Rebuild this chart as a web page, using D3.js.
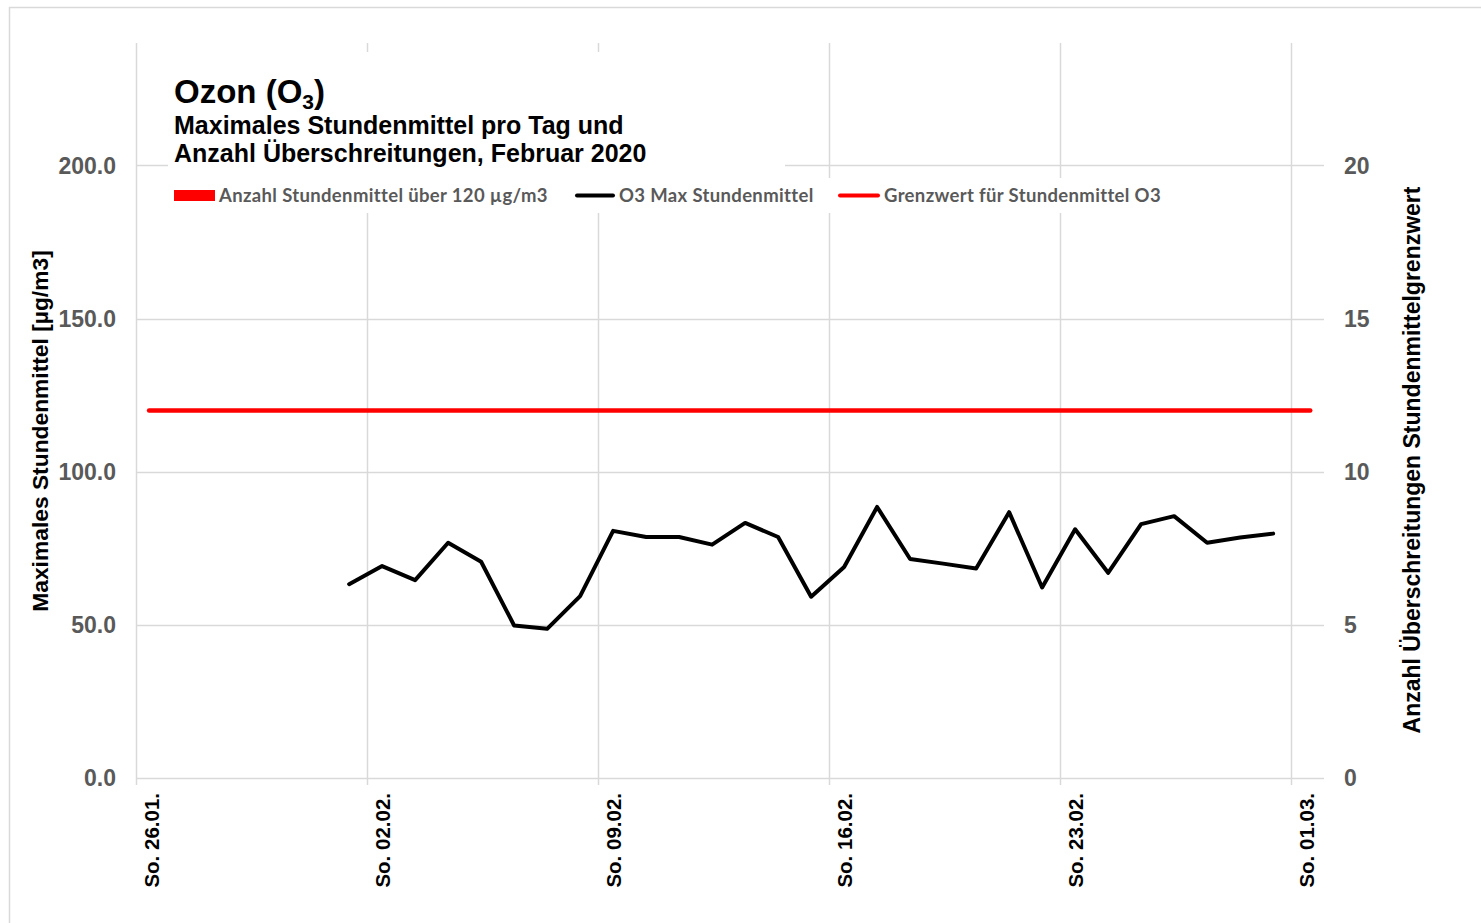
<!DOCTYPE html>
<html>
<head>
<meta charset="utf-8">
<script src="https://cdn.jsdelivr.net/npm/d3@7"></script>
<style>
  html, body { margin: 0; padding: 0; background: #fff; }
  svg { display: block; }
</style>
</head>
<body>
<svg id="chart" width="1481" height="923"></svg>
<script>
// ---------- data ----------
const dayDates = d3.range(1, 30).map(d => `2020-02-${String(d).padStart(2, "0")}T11:00:00Z`);
const o3Max = [63.3, 69.2, 64.6, 76.8, 70.6, 49.8, 48.7, 59.4, 80.7, 78.7,
               78.7, 76.2, 83.3, 78.7, 59.2, 68.9, 88.5, 71.5, 70.0, 68.4,
               86.8, 62.2, 81.2, 67.0, 82.9, 85.5, 76.8, 78.5, 79.8];
const exceedCounts = [0,0,0,0,0,0,0,0,0,0,0,0,0,0,0,0,0,0,0,0,0,0,0,0,0,0,0,0,0];
const thresholdDates = ["2020-01-26T09:30:00Z", "2020-03-01T14:00:00Z"];
const thresholdValues = [120, 120];
const xTickDates = ["2020-01-26", "2020-02-02", "2020-02-09", "2020-02-16", "2020-02-23", "2020-03-01"];
const xTickLabels = ["So. 26.01.", "So. 02.02.", "So. 09.02.", "So. 16.02.", "So. 23.02.", "So. 01.03."];
const yLeftTicks = [0, 50, 100, 150, 200];
const yRightTicks = [0, 5, 10, 15, 20];
const legendLabels = ["Anzahl Stundenmittel über 120 µg/m3", "O3 Max Stundenmittel", "Grenzwert für Stundenmittel O3"];

// ---------- layout ----------
const svg = d3.select("#chart");
const plot = { left: 136, right: 1324, top: 43, bottom: 778 };
const gridColor = "#d9d9d9";
const arial = "'Liberation Sans', Arial, sans-serif";
const calibri = "Lato, 'Open Sans', sans-serif";

const x = d3.scaleUtc()
  .domain([new Date("2020-01-26T00:00:00Z"), new Date("2020-03-02T00:00:00Z")])
  .range([plot.left, plot.right]);
const yL = d3.scaleLinear().domain([0, 240]).range([plot.bottom, plot.top]);
const yR = d3.scaleLinear().domain([0, 24]).range([plot.bottom, plot.top]);

// outer border
svg.append("rect").attr("x", 9.5).attr("y", 7.5).attr("width", 1500).attr("height", 940)
  .attr("fill", "#fff").attr("stroke", gridColor).attr("stroke-width", 1.5);

// horizontal gridlines
svg.append("g").selectAll("line").data(yLeftTicks).join("line")
  .attr("x1", plot.left).attr("x2", plot.right)
  .attr("y1", d => Math.round(yL(d)) + 0.5).attr("y2", d => Math.round(yL(d)) + 0.5)
  .attr("stroke", gridColor).attr("stroke-width", 1.5);

// vertical gridlines (with tick extension)
svg.append("g").selectAll("line").data(xTickDates).join("line")
  .attr("x1", d => Math.round(x(new Date(d + "T00:00:00Z"))) + 0.5)
  .attr("x2", d => Math.round(x(new Date(d + "T00:00:00Z"))) + 0.5)
  .attr("y1", plot.top).attr("y2", plot.bottom + 7)
  .attr("stroke", gridColor).attr("stroke-width", 1.5);

// left axis tick labels
svg.append("g").selectAll("text").data(yLeftTicks).join("text")
  .attr("x", 116).attr("y", d => yL(d)).attr("dy", "0.36em")
  .attr("text-anchor", "end")
  .attr("font-family", arial).attr("font-weight", "bold").attr("font-size", 23)
  .attr("fill", "#595959").text(d => d3.format(".1f")(d));

// right axis tick labels
svg.append("g").selectAll("text").data(yRightTicks).join("text")
  .attr("x", 1344).attr("y", d => yR(d)).attr("dy", "0.36em")
  .attr("text-anchor", "start")
  .attr("font-family", arial).attr("font-weight", "bold").attr("font-size", 23)
  .attr("fill", "#595959").text(d => d);

// x tick labels (rotated)
svg.append("g").selectAll("text").data(xTickDates).join("text")
  .attr("transform", (d, i) => `translate(${x(new Date(d + "T00:00:00Z")) + 23},793) rotate(-90)`)
  .attr("text-anchor", "end")
  .attr("font-family", arial).attr("font-weight", "bold").attr("font-size", 20.5)
  .attr("fill", "#000").text((d, i) => xTickLabels[i]);

// axis titles
svg.append("text")
  .attr("transform", "translate(48,431) rotate(-90)")
  .attr("text-anchor", "middle")
  .attr("font-family", arial).attr("font-weight", "bold").attr("font-size", 22.8)
  .attr("fill", "#000").text("Maximales Stundenmittel [µg/m3]");
svg.append("text")
  .attr("transform", "translate(1420,460) rotate(-90)")
  .attr("text-anchor", "middle")
  .attr("font-family", arial).attr("font-weight", "bold").attr("font-size", 23)
  .attr("fill", "#000").text("Anzahl Überschreitungen Stundenmittelgrenzwert");

// bars (all zero)
const bw = 20;
svg.append("g").selectAll("rect").data(exceedCounts).join("rect")
  .attr("x", (d, i) => x(new Date(dayDates[i])) - bw / 2)
  .attr("y", d => yR(d)).attr("width", bw)
  .attr("height", d => yR(0) - yR(d)).attr("fill", "#ff0000");

// threshold line
const thr = thresholdDates.map((d, i) => ({ t: new Date(d), v: thresholdValues[i] }));
svg.append("path").datum(thr)
  .attr("d", d3.line().x(d => x(d.t)).y(d => yL(d.v)))
  .attr("fill", "none").attr("stroke", "#ff0000").attr("stroke-width", 4.5)
  .attr("stroke-linecap", "round");

// O3 line
const o3 = o3Max.map((v, i) => ({ t: new Date(dayDates[i]), v }));
svg.append("path").datum(o3)
  .attr("d", d3.line().x(d => x(d.t)).y(d => yL(d.v)))
  .attr("fill", "none").attr("stroke", "#000").attr("stroke-width", 4)
  .attr("stroke-linejoin", "round").attr("stroke-linecap", "round");

// title & legend background boxes
svg.append("rect").attr("x", 168).attr("y", 52).attr("width", 617).attr("height", 161).attr("fill", "#fff");
svg.append("rect").attr("x", 168).attr("y", 178).attr("width", 1002).attr("height", 35).attr("fill", "#fff");

// title
const t1 = svg.append("text").attr("x", 174).attr("y", 103)
  .attr("font-family", arial).attr("font-weight", "bold").attr("font-size", 33).attr("fill", "#000");
t1.append("tspan").text("Ozon (O");
t1.append("tspan").attr("font-size", 21).attr("dy", 6).text("3");
t1.append("tspan").attr("dy", -6).text(")");
svg.append("text").attr("x", 174).attr("y", 134)
  .attr("font-family", arial).attr("font-weight", "bold").attr("font-size", 25).attr("fill", "#000")
  .text("Maximales Stundenmittel pro Tag und");
svg.append("text").attr("x", 174).attr("y", 162)
  .attr("font-family", arial).attr("font-weight", "bold").attr("font-size", 25).attr("fill", "#000")
  .text("Anzahl Überschreitungen, Februar 2020");

// legend
const lg = svg.append("g");
lg.append("rect").attr("x", 174).attr("y", 190).attr("width", 41).attr("height", 11).attr("fill", "#ff0000");
lg.append("line").attr("x1", 577).attr("x2", 613).attr("y1", 195.5).attr("y2", 195.5)
  .attr("stroke", "#000").attr("stroke-width", 4).attr("stroke-linecap", "round");
lg.append("line").attr("x1", 840).attr("x2", 878).attr("y1", 195.5).attr("y2", 195.5)
  .attr("stroke", "#ff0000").attr("stroke-width", 4).attr("stroke-linecap", "round");
const legX = [219, 619, 884];
lg.selectAll("text.leg").data(legendLabels).join("text").attr("class", "leg")
  .attr("x", (d, i) => legX[i]).attr("y", 202)
  .attr("font-family", calibri).attr("font-weight", "bold").attr("font-size", 18.5)
  .attr("letter-spacing", 0.35)
  .attr("fill", "#595959").text(d => d);
</script>
</body>
</html>
